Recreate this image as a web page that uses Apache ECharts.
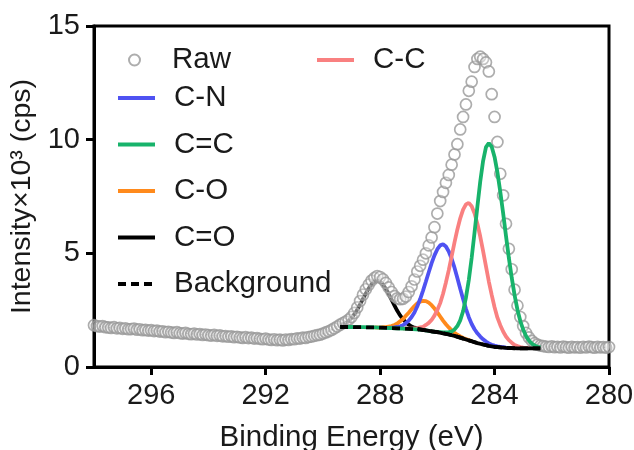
<!DOCTYPE html>
<html>
<head>
<meta charset="utf-8">
<script src="https://cdn.jsdelivr.net/npm/echarts@6/dist/echarts.min.js"></script>
<style>
html,body{margin:0;padding:0;background:#fff;}
#chart{width:634px;height:450px;}
</style>
</head>
<body>
<div id="chart"></div>
<script>
// ---- Data (binding energy eV, intensity x10^3 cps) ----
const xTicks = [296, 292, 288, 284, 280];
const yTicks = [0, 5, 10, 15];

const rawPoints = [
[298.0,1.84],[297.9,1.80],[297.8,1.78],[297.7,1.80],[297.6,1.75],[297.5,1.74],[297.4,1.72],[297.3,1.75],[297.2,1.70],[297.1,1.72],
[297.0,1.68],[296.9,1.70],[296.8,1.66],[296.7,1.67],[296.6,1.69],[296.5,1.64],[296.4,1.66],[296.3,1.62],[296.2,1.63],[296.1,1.60],
[296.0,1.62],[295.9,1.58],[295.8,1.60],[295.7,1.56],[295.6,1.57],[295.5,1.53],[295.4,1.55],[295.3,1.52],[295.2,1.50],[295.1,1.53],
[295.0,1.49],[294.9,1.47],[294.8,1.50],[294.7,1.46],[294.6,1.44],[294.5,1.47],[294.4,1.43],[294.3,1.45],[294.2,1.41],[294.1,1.43],
[294.0,1.40],[293.9,1.38],[293.8,1.41],[293.7,1.37],[293.6,1.39],[293.5,1.35],[293.4,1.36],[293.3,1.33],[293.2,1.35],[293.1,1.31],
[293.0,1.33],[292.9,1.30],[292.8,1.28],[292.7,1.31],[292.6,1.27],[292.5,1.29],[292.4,1.25],[292.3,1.27],[292.2,1.24],[292.1,1.22],
[292.0,1.25],[291.9,1.21],[291.8,1.19],[291.7,1.22],[291.6,1.18],[291.5,1.20],[291.4,1.17],[291.3,1.21],[291.2,1.19],[291.1,1.23],
[291.0,1.22],[290.9,1.26],[290.8,1.25],[290.7,1.29],[290.6,1.28],[290.5,1.32],[290.4,1.34],[290.3,1.37],[290.2,1.40],[290.1,1.42],
[290.0,1.47],[289.9,1.52],[289.8,1.57],[289.7,1.63],[289.6,1.70],[289.5,1.78],[289.4,1.86],[289.3,1.93],[289.2,2.00],[289.1,2.08],
[289.0,2.20],[288.9,2.38],[288.8,2.62],[288.7,2.90],[288.6,3.18],[288.5,3.42],[288.4,3.62],[288.3,3.80],[288.2,3.92],[288.1,4.00],
[288.0,3.96],[287.9,3.86],[287.8,3.70],[287.7,3.50],[287.6,3.30],[287.5,3.12],[287.4,3.02],[287.3,2.98],[287.2,3.00],[287.1,3.10],
[287.0,3.30],[286.9,3.55],[286.8,3.85],[286.7,4.20],[286.6,4.45],[286.5,4.72],[286.4,5.00],[286.3,5.35],[286.2,5.70],[286.1,6.15],
[286.0,6.75],[285.9,7.30],[285.8,7.70],[285.7,8.10],[285.6,8.45],[285.5,8.90],[285.4,9.35],[285.3,9.80],[285.2,10.45],[285.1,11.00],
[285.0,11.55],[284.9,12.15],[284.8,12.55],[284.7,13.20],[284.6,13.55],[284.5,13.65],[284.4,13.55],[284.3,13.40],[284.2,13.00],[284.1,12.00],
[284.0,11.00],[283.9,9.90],[283.8,8.50],[283.7,7.55],[283.6,6.30],[283.5,5.20],[283.4,4.30],[283.3,3.40],[283.2,2.70],[283.1,2.20],
[283.0,1.80],[282.9,1.50],[282.8,1.30],[282.7,1.15],[282.6,1.05],[282.5,0.98],[282.4,0.94],[282.3,0.92],[282.2,0.90],[282.1,0.88],
[282.0,0.91],[281.9,0.87],[281.8,0.89],[281.7,0.86],[281.6,0.90],[281.5,0.87],[281.4,0.85],[281.3,0.89],[281.2,0.86],[281.1,0.88],
[281.0,0.85],[280.9,0.89],[280.8,0.86],[280.7,0.90],[280.6,0.87],[280.5,0.85],[280.4,0.89],[280.3,0.86],[280.2,0.88],[280.1,0.85],
[280.0,0.88]
];

const backgroundPoints = [
[289.4,1.76],[289.2,1.76],[289.0,1.76],[288.8,1.75],[288.6,1.75],[288.4,1.74],[288.2,1.74],[288.0,1.73],[287.8,1.72],[287.6,1.71],
[287.4,1.70],[287.2,1.69],[287.0,1.68],[286.8,1.66],[286.6,1.64],[286.4,1.61],[286.2,1.57],[286.0,1.53],[285.8,1.48],[285.6,1.43],
[285.4,1.37],[285.2,1.29],[285.0,1.21],[284.8,1.13],[284.6,1.05],[284.4,0.99],[284.2,0.93],[284.0,0.89],[283.8,0.86],[283.6,0.84],
[283.4,0.83],[283.2,0.82],[283.0,0.82],[282.4,0.82]
];

const coPeakPoints = [ // C=O, peak part
[289.4,1.83],[289.3,1.875],[289.2,1.94],[289.1,2.04],[289.0,2.16],[288.9,2.32],[288.8,2.52],[288.7,2.75],[288.6,3.00],[288.5,3.24],
[288.4,3.46],[288.3,3.64],[288.2,3.76],[288.1,3.80],[288.0,3.75],[287.9,3.63],[287.8,3.44],[287.7,3.22],[287.6,2.96],[287.5,2.71],
[287.4,2.47],[287.3,2.27],[287.2,2.10],[287.1,1.97],[287.0,1.86],[286.9,1.78],[286.8,1.73],[286.7,1.69],[286.6,1.66]
];
const coTailPoints = [ // C=O, tail along background
[286.7,1.69],[286.6,1.66],[286.5,1.63],[286.4,1.61],[286.2,1.57],[286.0,1.53],[285.8,1.48],[285.6,1.43],[285.4,1.37],[285.2,1.29],
[285.0,1.21],[284.8,1.13],[284.6,1.05],[284.4,0.99],[284.2,0.93],[284.0,0.89],[283.8,0.86],[283.6,0.84],[283.4,0.83],[283.2,0.82],
[283.0,0.82],[282.4,0.82]
];

const cOPoints = [ // C-O
[288.2,1.74],[288.0,1.73],[287.9,1.75],[287.8,1.75],[287.7,1.78],[287.6,1.80],[287.5,1.85],[287.4,1.91],[287.3,2.01],[287.2,2.11],
[287.1,2.25],[287.0,2.39],[286.9,2.54],[286.8,2.68],[286.7,2.80],[286.6,2.88],[286.5,2.91],[286.4,2.90],[286.3,2.83],[286.2,2.72],
[286.1,2.57],[286.0,2.40],[285.9,2.22],[285.8,2.04],[285.7,1.88],[285.6,1.74],[285.5,1.61],[285.4,1.51],[285.3,1.42],[285.2,1.35],
[285.1,1.28],[285.0,1.23],[284.8,1.14]
];

const cNPoints = [ // C-N
[287.8,1.72],[287.6,1.73],[287.5,1.74],[287.4,1.76],[287.3,1.79],[287.2,1.84],[287.1,1.93],[287.0,2.04],[286.9,2.20],[286.8,2.40],
[286.7,2.67],[286.6,2.99],[286.5,3.36],[286.4,3.76],[286.3,4.17],[286.2,4.57],[286.1,4.91],[286.0,5.18],[285.9,5.35],[285.8,5.40],
[285.7,5.30],[285.6,5.08],[285.5,4.76],[285.4,4.37],[285.3,3.91],[285.2,3.44],[285.1,2.99],[285.0,2.56],[284.9,2.19],[284.8,1.89],
[284.7,1.66],[284.6,1.48],[284.5,1.34],[284.4,1.22],[284.3,1.12],[284.2,1.04],[284.1,0.98],[284.0,0.94],[283.9,0.91],[283.8,0.89],
[283.7,0.87],[283.6,0.85],[283.4,0.83]
];

const cCPoints = [ // C-C
[287.2,1.69],[287.0,1.69],[286.9,1.69],[286.8,1.70],[286.7,1.71],[286.6,1.74],[286.5,1.77],[286.4,1.85],[286.3,1.94],[286.2,2.07],
[286.1,2.26],[286.0,2.51],[285.9,2.81],[285.8,3.22],[285.7,3.72],[285.6,4.26],[285.5,4.87],[285.4,5.48],[285.3,6.05],[285.2,6.54],
[285.1,6.92],[285.0,7.15],[284.9,7.22],[284.8,7.07],[284.7,6.76],[284.6,6.30],[284.5,5.74],[284.4,5.10],[284.3,4.43],[284.2,3.76],
[284.1,3.17],[284.0,2.63],[283.9,2.17],[283.8,1.84],[283.7,1.56],[283.6,1.34],[283.5,1.18],[283.4,1.07],[283.3,0.97],[283.2,0.92],
[283.1,0.88],[283.0,0.85],[282.8,0.83]
];

const cdCPoints = [ // C=C
[289.4,1.76],[289.0,1.76],[288.6,1.75],[288.2,1.74],[287.8,1.72],[287.4,1.70],[287.0,1.68],[286.6,1.64],[286.4,1.61],[286.2,1.57],
[286.0,1.54],[285.9,1.53],[285.8,1.52],[285.7,1.52],[285.6,1.53],[285.5,1.56],[285.4,1.65],[285.3,1.80],[285.2,2.05],[285.1,2.45],
[285.0,3.05],[284.9,3.83],[284.8,4.80],[284.7,5.91],[284.6,7.06],[284.5,8.16],[284.4,9.07],[284.3,9.67],[284.2,9.85],[284.1,9.69],
[284.0,9.24],[283.9,8.56],[283.8,7.71],[283.7,6.76],[283.6,5.76],[283.5,4.80],[283.4,3.93],[283.3,3.16],[283.2,2.52],[283.1,2.02],
[283.0,1.65],[282.9,1.36],[282.8,1.17],[282.7,1.03],[282.6,0.95],[282.5,0.89],[282.4,0.86]
];

// ---- Chart ----
const FONT = '"Liberation Sans", Arial, Helvetica, sans-serif';
const TXT = '#1a1a1a';
const C = { raw:'#999999', cn:'#4f52f2', cdc:'#18b36b', co:'#ff8a1c', cc:'#f98080', k:'#000000' };
const LW = 3.8;

const rawLeft = rawPoints.filter(p => p[0] >= 289.5);
const rawRight = rawPoints.filter(p => p[0] <= 282.4);

const legendText = { fontSize: 29.5, color: TXT, fontFamily: FONT, padding: [0,0,0,14], lineHeight: 30 };

function lineSeries(name, data, color, z, extra) {
  return Object.assign({
    name, type: 'line', data, symbol: 'none', z,
    lineStyle: { color, width: LW }, itemStyle: { color },
    emphasis: { disabled: true }, silent: true
  }, extra || {});
}

const chart = echarts.init(document.getElementById('chart'), null, { renderer: 'canvas' });
chart.setOption({
  animation: false,
  textStyle: { fontFamily: FONT },
  grid: { left: 94, right: 25, top: 26, bottom: 83, show: true, borderColor: '#000', borderWidth: 3,
          backgroundColor: 'transparent', containLabel: false, outerBoundsMode: 'none' },
  xAxis: {
    type: 'value', min: 280, max: 298, inverse: true, interval: 4,
    name: 'Binding Energy (eV)', nameLocation: 'middle', nameGap: 56,
    nameTextStyle: { fontSize: 29.5, color: TXT, fontFamily: FONT },
    axisLine: { show: true, lineStyle: { color: '#000', width: 3 } },
    axisTick: { show: true, length: 8, inside: false, lineStyle: { color: '#000', width: 3 }, customValues: xTicks },
    axisLabel: { fontSize: 29, color: TXT, margin: 14, customValues: xTicks, fontFamily: FONT },
    splitLine: { show: false }
  },
  yAxis: {
    type: 'value', min: 0, max: 15, interval: 5,
    name: 'Intensity×10³ (cps)', nameLocation: 'middle', nameGap: 38, nameRotate: 90,
    nameTextStyle: { fontSize: 28.5, color: TXT, fontFamily: FONT },
    axisLine: { show: true, lineStyle: { color: '#000', width: 3 } },
    axisTick: { show: true, length: 8, inside: false, lineStyle: { color: '#000', width: 3 }, customValues: yTicks },
    axisLabel: { fontSize: 29, color: TXT, margin: 14, customValues: yTicks, fontFamily: FONT },
    splitLine: { show: false }
  },
  legend: [
    { data: ['Raw'], left: 128, top: 45, padding: 0, itemWidth: 37, itemHeight: 11, selectedMode: false, textStyle: legendText },
    { data: ['C-C'], left: 315, top: 45, padding: 0, itemWidth: 37, itemHeight: 11, selectedMode: false,
      itemStyle: { opacity: 0 }, lineStyle: { width: 4 }, textStyle: legendText },
    { data: ['C-N','C=C','C-O','C=O','Background'], orient: 'vertical', left: 116, top: 83, padding: 0, itemGap: 16.5,
      itemWidth: 37, itemHeight: 11, selectedMode: false, itemStyle: { opacity: 0 }, lineStyle: { width: 4 }, textStyle: legendText }
  ],
  series: [
    lineSeries('rawTraceL', rawLeft, C.k, 1, { lineStyle: { color: '#222', width: 1.5, type: [2, 3] } }),
    lineSeries('rawTraceR', rawRight, C.k, 1, { lineStyle: { color: '#222', width: 1.5, type: [2, 3] } }),
    lineSeries('C=O', coPeakPoints, C.k, 2),
    { name: 'Raw', type: 'scatter', data: rawPoints, symbol: 'circle', symbolSize: 11, z: 3,
      itemStyle: { color: 'rgba(255,255,255,0.35)', borderColor: C.raw, borderWidth: 1.7 }, silent: true, emphasis: { disabled: true } },
    lineSeries('C-O', cOPoints, C.co, 4),
    lineSeries('C-N', cNPoints, C.cn, 4),
    lineSeries('C-C', cCPoints, C.cc, 4),
    lineSeries('C=C', cdCPoints, C.cdc, 4),
    lineSeries('C=O', coTailPoints, C.k, 5),
    lineSeries('Background', backgroundPoints, C.k, 6, { lineStyle: { color: C.k, width: LW, type: [8, 5] } })
  ]
});
</script>
</body>
</html>
